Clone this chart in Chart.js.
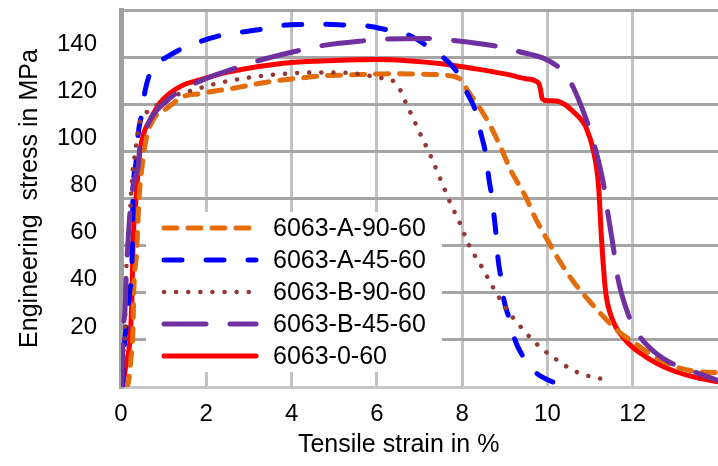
<!DOCTYPE html>
<html>
<head>
<meta charset="utf-8">
<script src="https://cdn.jsdelivr.net/npm/chart.js@4.4.0/dist/chart.umd.min.js"></script>
<style>
  html, body { margin: 0; padding: 0; background: #fff; overflow: hidden; }
  #wrap { width: 718px; height: 466px; }
</style>
</head>
<body>
<div id="wrap"><canvas id="stressChart" width="718" height="466"></canvas></div>
<script>
// strain in %, stress in MPa
const strainA90 = [0.08, 0.16, 0.23, 0.28, 0.30, 0.37, 0.42, 0.51, 0.60, 0.80, 1.07, 1.45, 1.85, 2.2, 2.67, 3.02, 3.56, 4.14, 4.69, 5.28, 5.82, 6.36, 6.92, 7.53, 7.93, 8.01, 8.12, 8.32, 8.63, 8.9, 9.14, 9.49, 9.72, 10.0, 10.27, 10.58, 10.93, 11.28, 11.67, 11.95, 12.45, 13.0, 13.54, 14.0];
const stressA90 = [0, 1, 11.5, 24, 41, 58, 79, 96, 106, 114.7, 118.2, 123.2, 124.5, 125.6, 126.9, 128.1, 129.8, 131, 132, 132.4, 132.7, 133, 132.8, 132.4, 131, 129.5, 126, 121, 111.9, 101.9, 92, 80.7, 71.6, 62.4, 53.9, 45.4, 37.6, 30.5, 23.5, 19.9, 13.6, 8.6, 6.5, 6.1];

const strainA45 = [0.03, 0.09, 0.14, 0.2, 0.26, 0.28, 0.35, 0.40, 0.48, 0.56, 0.68, 0.85, 1.03, 1.45, 1.92, 2.36, 2.86, 3.32, 3.84, 4.3, 4.81, 5.28, 5.78, 6.25, 6.76, 7.15, 7.58, 7.9, 8.12, 8.32, 8.44, 8.55, 8.63, 8.69, 8.75, 8.8, 8.84, 8.91, 8.98, 9.1, 9.24, 9.45, 9.62, 9.8, 10.19];
const stressA45 = [0, 20, 28, 40, 55, 80, 95, 107, 115.4, 125.2, 133.2, 137.5, 139.6, 143.8, 147, 149.3, 150.7, 151.9, 153.6, 153.9, 154, 153.6, 153.2, 151.5, 149.3, 145.1, 139.5, 133, 124.7, 116.8, 107.6, 99.1, 88, 81.5, 72.3, 63.8, 54.7, 46.2, 36.9, 29.3, 19.9, 12.3, 8, 5.1, 1.6];

const strainB90 = [0.02, 0.05, 0.09, 0.12, 0.17, 0.21, 0.28, 0.33, 0.40, 0.48, 0.68, 1.19, 1.69, 2.24, 2.78, 3.32, 3.91, 4.46, 5.03, 5.59, 5.86, 6.14, 6.41, 6.57, 6.68, 6.8, 7.03, 7.27, 7.5, 7.71, 7.95, 8.16, 8.46, 8.73, 9.02, 9.37, 9.75, 10.19, 10.67, 11.2, 11.49];
const stressB90 = [0, 12.9, 22.9, 48.2, 59.5, 73.7, 93, 99, 109, 114, 117.5, 123.2, 126, 128.8, 130.7, 132.1, 133, 133.5, 133.5, 132.8, 132, 131, 129.5, 125.3, 120.6, 116, 106.9, 97.7, 87.8, 78.6, 69.4, 60.2, 51, 42.1, 33.6, 25.6, 18.2, 11.9, 6.5, 3.7, 3];

const strainB45 = [0.02, 0.05, 0.09, 0.13, 0.21, 0.29, 0.40, 0.44, 0.60, 1.19, 1.85, 2.67, 3.13, 4.15, 4.65, 5.67, 6.18, 7.23, 7.74, 8.75, 9.26, 10.23, 10.54, 10.93, 11.09, 11.32, 11.4, 11.56, 11.63, 11.9, 12.14, 12.5, 12.92, 13.43, 13.96];
const stressB45 = [0, 24, 31.4, 50, 73.8, 86.4, 93.5, 101.3, 110.4, 123.2, 129.8, 135.2, 138, 142.7, 144.7, 146.9, 147.6, 147.9, 147.2, 144.8, 142.7, 136.2, 129.5, 112.6, 103.4, 85.7, 75.8, 57.4, 48.2, 30.5, 22.1, 15, 10, 6.5, 3];

const strain060 = [0.04, 0.12, 0.21, 0.26, 0.28, 0.35, 0.44, 0.54, 0.68, 0.91, 1.15, 1.45, 1.85, 2.4, 2.95, 4.0, 5.0, 6.0, 6.8, 7.46, 8.26, 9.03, 9.5, 9.8, 9.84, 9.87, 9.95, 10.2, 10.4, 10.57, 10.75, 10.9, 11.09, 11.2, 11.27, 11.36, 11.5, 11.83, 12.3, 12.91, 13.5, 14.0];
const stress060 = [0, 10, 20, 40, 59.4, 79.3, 99.3, 108, 113.3, 120.5, 124.7, 128.1, 130.3, 133.2, 135.2, 137.7, 138.6, 139, 138.4, 137.3, 135.2, 132.8, 130.8, 128.8, 126, 122.8, 121.6, 121.4, 120, 117.5, 114.3, 110.4, 99.3, 85, 62.4, 41.2, 29.8, 19.9, 12.9, 7.2, 4, 2.2];

const seriesNames = ['6063-A-90-60', '6063-A-45-60', '6063-B-90-60', '6063-B-45-60', '6063-0-60'];

const orange = '#E46C0A';
const blue = '#0000FF';
const brown = '#953735';
const purple = '#7030A0';
const red = '#FF0000';

const fontFamily = '"Liberation Sans", Arial, sans-serif';

function toPoints(xs, ys) {
    return xs.map((x, i) => ({ x: x, y: ys[i] }));
}

function lineSet(label, xs, ys, color, dash, width, order) {
    return {
        label: label,
        data: toPoints(xs, ys),
        borderColor: color,
        backgroundColor: color,
        borderWidth: width,
        borderDash: dash,
        borderCapStyle: 'round',
        borderJoinStyle: 'round',
        pointRadius: 0,
        fill: false,
        cubicInterpolationMode: 'monotone',
        order: order
    };
}

// legend sits inside the plot, on a white box
const insideLegend = {
    id: 'insideLegend',
    afterDatasetsDraw(chart) {
        const ctx = chart.ctx;
        ctx.save();
        ctx.fillStyle = '#fff';
        ctx.fillRect(146, 212, 296, 160);
        chart.data.datasets.forEach((ds, i) => {
            const y = 228 + i * 32;
            ctx.strokeStyle = ds.borderColor;
            ctx.lineWidth = ds.borderWidth;
            ctx.lineCap = 'round';
            ctx.setLineDash(ds.borderDash || []);
            ctx.beginPath();
            ctx.moveTo(164, y);
            ctx.lineTo(256, y);
            ctx.stroke();
            ctx.setLineDash([]);
            ctx.fillStyle = '#000';
            ctx.font = '25px ' + fontFamily;
            ctx.textBaseline = 'middle';
            ctx.textAlign = 'left';
            ctx.fillText(ds.label, 273, y + 1);
        });
        ctx.restore();
    }
};

new Chart(document.getElementById('stressChart').getContext('2d'), {
    type: 'line',
    data: {
        datasets: [
            lineSet(seriesNames[0], strainA90, stressA90, orange, [13, 11], 5, 4),
            lineSet(seriesNames[1], strainA45, stressA45, blue, [18, 24], 5, 3),
            lineSet(seriesNames[2], strainB90, stressB90, brown, [0.1, 12], 4.5, 2),
            lineSet(seriesNames[3], strainB45, stressB45, purple, [42, 24], 5, 1),
            lineSet(seriesNames[4], strain060, stress060, red, [], 5, 5)
        ]
    },
    options: {
        responsive: false,
        animation: false,
        devicePixelRatio: 1,
        layout: { padding: { top: 10, right: 0, left: 0, bottom: 0 } },
        plugins: {
            legend: { display: false },
            tooltip: { enabled: false }
        },
        scales: {
            x: {
                type: 'linear',
                min: 0,
                max: 14,
                afterFit: s => {
                    s.height = 79;
                    s.paddingLeft = 0;
                    s.paddingRight = 0;
                },
                ticks: {
                    stepSize: 2,
                    padding: 13,
                    color: '#000',
                    font: { family: fontFamily, size: 24 },
                    maxRotation: 0,
                    callback: v => (v === 14 ? '' : v)
                },
                grid: {
                    drawTicks: false,
                    lineWidth: 3,
                    color: ctx => (ctx.tick && (ctx.tick.value === 14 || ctx.tick.value === 0) ? 'rgba(0,0,0,0)' : '#c2c2c2')
                },
                border: { color: '#c6c6c6', width: 3 },
                title: {
                    display: true,
                    text: 'Tensile strain in %\u00a0\u00a0\u00a0\u00a0\u00a0\u00a0',
                    color: '#000',
                    font: { family: fontFamily, size: 25 },
                    padding: { top: 0, bottom: 6 }
                }
            },
            y: {
                min: 0,
                max: 160,
                afterFit: s => {
                    s.width = 121;
                    s.paddingTop = 0;
                    s.paddingBottom = 0;
                },
                ticks: {
                    stepSize: 20,
                    padding: 24,
                    labelOffset: -13,
                    color: '#000',
                    font: { family: fontFamily, size: 24 },
                    callback: v => (v === 0 || v === 160 ? '' : v)
                },
                grid: {
                    drawTicks: false,
                    lineWidth: 3,
                    color: ctx => (ctx.tick && ctx.tick.value === 0 ? 'rgba(0,0,0,0)' : '#a5a5a5')
                },
                border: { color: '#a0a0a0', width: 5 },
                title: {
                    display: true,
                    text: 'Engineering  stress in MPa',
                    color: '#000',
                    font: { family: fontFamily, size: 25 },
                    padding: { top: 15, bottom: 0 }
                }
            }
        }
    },
    plugins: [insideLegend]
});
</script>
</body>
</html>
